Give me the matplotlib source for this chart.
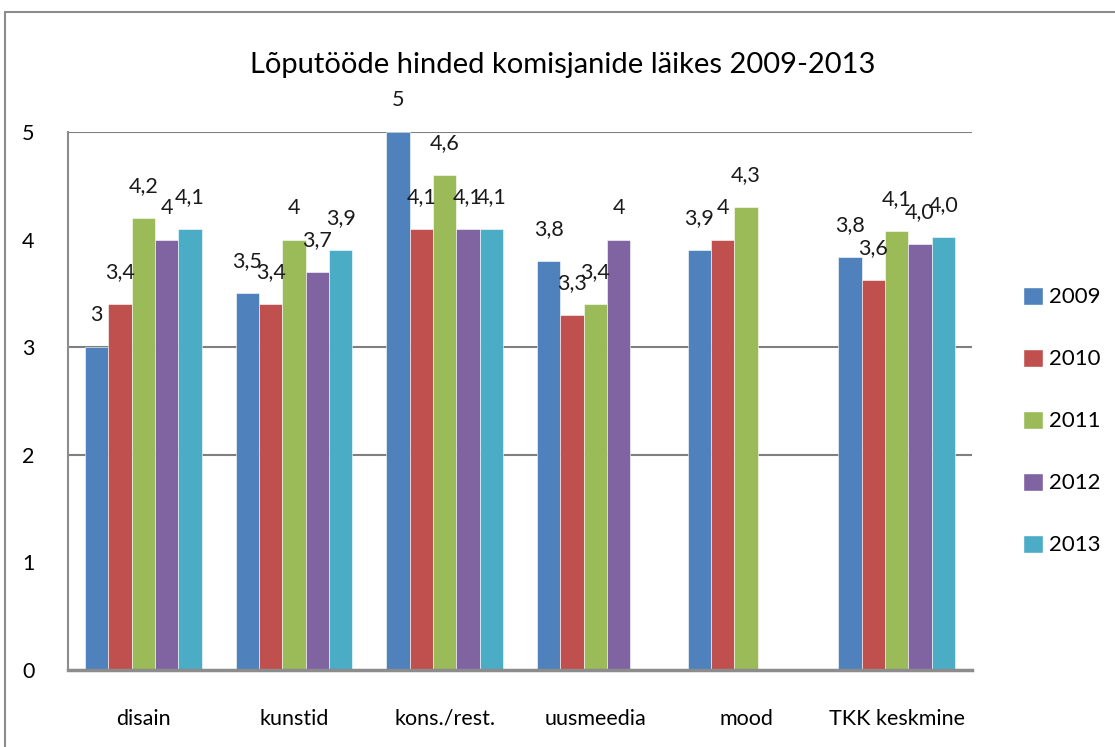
import numpy as np
import matplotlib
matplotlib.use('Agg')
from matplotlib import pyplot as plt
from matplotlib.patches import Rectangle, Patch

plt.rcParams['font.family'] = ['Lato', 'DejaVu Sans']

categories = ['disain', 'kunstid', 'kons./rest.', 'uusmeedia', 'mood', 'TKK keskmine']
years = ['2009', '2010', '2011', '2012', '2013']
v2009 = [3.0, 3.5, 5.0, 3.8, 3.9, 3.84]
v2010 = [3.4, 3.4, 4.1, 3.3, 4.0, 3.62]
v2011 = [4.2, 4.0, 4.6, 3.4, 4.3, 4.08]
v2012 = [4.0, 3.7, 4.1, 4.0, np.nan, 3.96]
v2013 = [4.1, 3.9, 4.1, np.nan, np.nan, 4.02]
series = [v2009, v2010, v2011, v2012, v2013]
colors = ['#4F81BD', '#C0504D', '#9BBB59', '#8064A2', '#4BACC6']
title = 'Lõputööde hinded komisjanide läikes 2009-2013'


def fmt(v):
    if float(v).is_integer():
        return '%d' % v
    return ('%.1f' % v).replace('.', ',')


fig = plt.figure(figsize=(11.15, 7.47), dpi=100)
# outer chart border
fig.patches.append(Rectangle((5 / 1115, -0.01), 1.02, 1 - 12 / 747 + 0.01,
                             transform=fig.transFigure, fill=False,
                             edgecolor='#8c8c8c', lw=1.5))

ax = fig.add_axes([68 / 1115, 1 - 670 / 747, (972 - 68) / 1115, (670 - 132) / 747])

x = np.arange(len(categories))
w = 0.155
for i, (vals, c) in enumerate(zip(series, colors)):
    pos = x + (i - 2) * w
    ax.bar(pos, vals, width=w, color=c, edgecolor='white', linewidth=0.4, zorder=3,
           label=years[i])
    for p, v in zip(pos, vals):
        if not np.isnan(v):
            ax.annotate(fmt(v), (p, v), xytext=(0, 23), textcoords='offset points',
                        ha='center', va='center', fontsize=15.5, color='#1a1a1a', zorder=4)

ax.set_xlim(-0.5, len(categories) - 0.5)
ax.set_ylim(0, 5)
ax.set_yticks([0, 1, 2, 3, 4, 5])
ax.set_xticks(x)
ax.set_xticklabels(categories, fontsize=15.5)
ax.tick_params(axis='y', length=0, pad=24, labelsize=15.5)
ax.tick_params(axis='x', length=0, pad=28)
for gy in [2, 3, 5]:
    ax.axhline(gy, color='#7f7f7f', lw=1.5, zorder=1)

for s in ['top', 'right']:
    ax.spines[s].set_visible(False)
ax.spines['left'].set_color('#8c8c8c')
ax.spines['left'].set_linewidth(1.5)
ax.spines['bottom'].set_color('#8c8c8c')
ax.spines['bottom'].set_linewidth(2.5)
ax.spines['bottom'].set_zorder(5)

fig.text(563 / 1115, 1 - 65 / 747, title, ha='center', va='center', fontsize=21)

handles = [Patch(facecolor=c, edgecolor='white', label=yr) for c, yr in zip(colors, years)]
fig.legend(handles=handles, loc='center left', bbox_to_anchor=(1012 / 1115, 1 - 421 / 747),
           frameon=False, fontsize=16, labelspacing=1.85, handlelength=0.9,
           handleheight=0.9, handletextpad=0.25, borderpad=0)

plt.savefig('out.png', dpi=100)
